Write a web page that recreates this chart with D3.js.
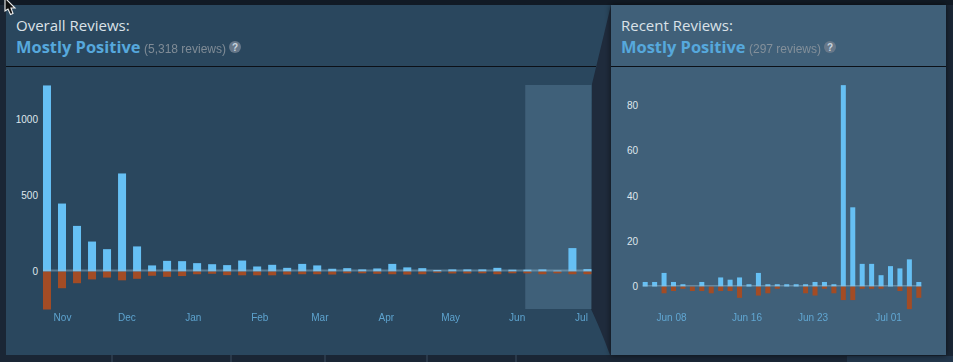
<!DOCTYPE html>
<html lang="en">
  <head>
    <meta charset="utf-8" />
    <title>Steam review histograms</title>
    <script src="https://d3js.org/d3.v7.min.js"></script>
    <style>
      html, body { margin: 0; padding: 0; background: #1b2838; overflow: hidden; }
      svg { display: block; }
      .heading { font-family: "Open Sans", sans-serif; font-size: 15px; fill: #dbe2e8; }
      .rating { font-family: "Open Sans", sans-serif; font-size: 16.45px; font-weight: 700; fill: #56a8dc; }
      .count { font-family: "Liberation Sans", sans-serif; font-size: 12px; fill: #8f98a0; opacity: 0.85; }
      .tick text { font-family: "Liberation Sans", sans-serif; font-size: 10px; }
      .y-axis text { fill: #dfe6ec; }
      .x-axis text { fill: #66b3e2; opacity: 0.85; }
      .domain, .tick line { display: none; }
    </style>
  </head>
  <body>
    <svg width="953" height="362"></svg>
    <script type="text/javascript">
      const parse = d3.utcParse("%Y-%m-%d");

      // weekly bars, overall histogram
      const overallStart = "2018-10-25";
      const overallUp = [1224, 447, 300, 197, 147, 645, 165, 40, 70, 68, 55, 48, 42, 72, 33, 44, 24, 50, 40, 18, 22, 14, 20, 50, 27, 22, 10, 14, 14, 14, 24, 12, 12, 14, 6, 154, 16];
      const overallDown = [250, 110, 77, 52, 40, 58, 48, 28, 35, 30, 18, 15, 24, 25, 25, 25, 20, 18, 18, 20, 12, 12, 15, 18, 20, 18, 8, 13, 13, 12, 18, 12, 12, 18, 12, 18, 18];
      const overallTicks = ["2018-11-01", "2018-12-01", "2019-01-01", "2019-02-01", "2019-03-01", "2019-04-01", "2019-05-01", "2019-06-01", "2019-07-01"];
      const overallYTicks = [0, 500, 1000];

      // daily bars, recent histogram
      const recentStart = "2019-06-05";
      const recentUp = [2, 2, 6, 2, 1, 0, 2, 0, 4, 3, 4, 1, 6, 1, 1, 1, 1, 1, 2, 2, 1, 89, 35, 10, 10, 5, 9, 8, 12, 2];
      const recentDown = [0, 0, 3, 2, 1, 2, 2, 3, 2, 2, 5, 0, 4, 3, 1, 0, 0, 3, 4, 1, 3, 6, 6, 1, 1, 1, 0, 2, 10, 5];
      const recentTicks = ["2019-06-08", "2019-06-16", "2019-06-23", "2019-07-01"];
      const recentYTicks = [0, 20, 40, 60, 80];

      const highlightRange = ["2019-06-05", "2019-07-04"];

      const colours = {
        up: "#66c0f4",
        down: "#a34c25",
        overallPanel: "#2a475e",
        recentPanel: "#3f6079",
        wedge: "#1f2b3c",
      };

      const svg = d3.select("svg");

      // page furniture
      const defs = svg.append("defs");
      const shadow = defs.append("filter").attr("id", "shadow").attr("x", "-10%").attr("width", "120%");
      shadow.append("feDropShadow").attr("dx", 0).attr("dy", 0).attr("stdDeviation", 3).attr("flood-color", "#000").attr("flood-opacity", 0.6);

      svg.append("rect").attr("x", 0).attr("y", 0).attr("width", 953).attr("height", 362).attr("fill", "#1a2635");
      svg.append("rect").attr("x", 0).attr("y", 0).attr("width", 953).attr("height", 5).attr("fill", "#111a25");
      svg.append("rect").attr("x", 847).attr("y", 356).attr("width", 106).attr("height", 6).attr("fill", "#22364b");
      [112, 231, 325, 427, 516].forEach((x) =>
        svg.append("line").attr("x1", x).attr("x2", x).attr("y1", 355).attr("y2", 362).attr("stroke", "#3a4d60")
      );

      svg.append("rect").attr("x", 6).attr("y", 5).attr("width", 620).attr("height", 350).attr("fill", colours.overallPanel);
      svg.append("path").attr("d", "M611,5 L592,84 L591,309 C597,322 604,338 610,355 L626,355 L626,5 Z").attr("fill", colours.wedge);
      svg.append("rect").attr("x", 6).attr("y", 66).attr("width", 590).attr("height", 1).attr("fill", "#0b1017");

      svg.append("rect").attr("x", 611).attr("y", 5).attr("width", 335).attr("height", 350).attr("fill", colours.recentPanel).attr("filter", "url(#shadow)");
      svg.append("rect").attr("x", 611).attr("y", 66).attr("width", 335).attr("height", 1).attr("fill", "#0b1017");

      function header(x, title, count, iconX) {
        svg.append("text").attr("class", "heading").attr("x", x).attr("y", 31).text(title);
        svg.append("text").attr("class", "rating").attr("x", x).attr("y", 53).text("Mostly Positive");
        svg.append("text").attr("class", "count").attr("x", x + 128).attr("y", 53).text(count);
        svg.append("circle").attr("cx", iconX).attr("cy", 47).attr("r", 6).attr("fill", "#67788a");
        svg.append("text").attr("x", iconX).attr("y", 50.5).attr("text-anchor", "middle")
          .attr("font-family", "Liberation Sans").attr("font-weight", 700).attr("font-size", 10).attr("fill", "#c6d4df").text("?");
      }

      header(16, "Overall Reviews:", "(5,318 reviews)", 235);
      header(621, "Recent Reviews:", "(297 reviews)", 830);

      function histogram(opts) {
        const start = parse(opts.start);
        const dates = opts.up.map((_, i) => d3.utcDay.offset(start, i * opts.days));
        const tickDates = opts.ticks.map(parse);

        const x = d3.scaleUtc().domain(opts.xDomain.map(parse)).range(opts.xRange);
        const y = d3.scaleLinear().domain(opts.yDomain).range(opts.yRange);

        const g = svg.append("g");

        if (opts.highlight) {
          g.append("rect")
            .attr("x", x(parse(opts.highlight[0])))
            .attr("y", 85)
            .attr("width", x(parse(opts.highlight[1])) + opts.barOffset + opts.barWidth - x(parse(opts.highlight[0])))
            .attr("height", 224)
            .attr("fill", colours.recentPanel);
        }

        g.selectAll(".up")
          .data(opts.up)
          .join("rect")
          .attr("class", "up")
          .attr("x", (d, i) => x(dates[i]) + opts.barOffset)
          .attr("y", (d) => y(d))
          .attr("width", opts.barWidth)
          .attr("height", (d) => y(0) - y(d))
          .attr("fill", colours.up);

        g.selectAll(".down")
          .data(opts.down)
          .join("rect")
          .attr("class", "down")
          .attr("x", (d, i) => x(dates[i]) + opts.barOffset)
          .attr("y", y(0))
          .attr("width", opts.barWidth)
          .attr("height", (d) => y(-d) - y(0))
          .attr("fill", colours.down);

        // zero line over the bars
        g.append("rect")
          .attr("x", x(dates[0]) + opts.barOffset)
          .attr("y", y(0) - opts.zeroHeight)
          .attr("width", x(dates[dates.length - 1]) - x(dates[0]) + opts.barWidth)
          .attr("height", opts.zeroHeight)
          .attr("fill", "#9cc0d8")
          .attr("fill-opacity", 0.42);

        g.append("g")
          .attr("class", "y-axis")
          .attr("transform", `translate(${opts.yAxisX},0)`)
          .call(d3.axisLeft(y).tickValues(opts.yTicks).tickSize(0).tickPadding(0).tickFormat(d3.format("d")));

        g.append("g")
          .attr("class", "x-axis")
          .attr("transform", "translate(0,311)")
          .call(d3.axisBottom(x).tickValues(tickDates).tickSize(0).tickPadding(3).tickFormat(d3.utcFormat(opts.tickFormat)));
      }

      histogram({
        start: overallStart,
        days: 7,
        up: overallUp,
        down: overallDown,
        ticks: overallTicks,
        yTicks: overallYTicks,
        tickFormat: "%b",
        xDomain: ["2018-11-01", "2019-07-01"],
        xRange: [62, 581],
        yDomain: [0, 1000],
        yRange: [271.5, 119.5],
        yAxisX: 38,
        barWidth: 8,
        barOffset: -4,
        highlight: highlightRange,
        zeroHeight: 2,
      });

      histogram({
        start: recentStart,
        days: 1,
        up: recentUp,
        down: recentDown,
        ticks: recentTicks,
        yTicks: recentYTicks,
        tickFormat: "%b %d",
        xDomain: ["2019-06-08", "2019-07-01"],
        xRange: [671, 888],
        yDomain: [0, 80],
        yRange: [286.5, 105.5],
        yAxisX: 638,
        barWidth: 5,
        barOffset: 0,
        zeroHeight: 1.5,
      });

      // mouse pointer caught in the screenshot
      svg.append("path")
        .attr("d", "M5,-2 L5,11 L8,9 L10.5,14.5 L13,13.5 L11,8 L15,8 Z")
        .attr("fill", "#111")
        .attr("stroke", "#eee")
        .attr("stroke-width", 1.1);
    </script>
  </body>
</html>
